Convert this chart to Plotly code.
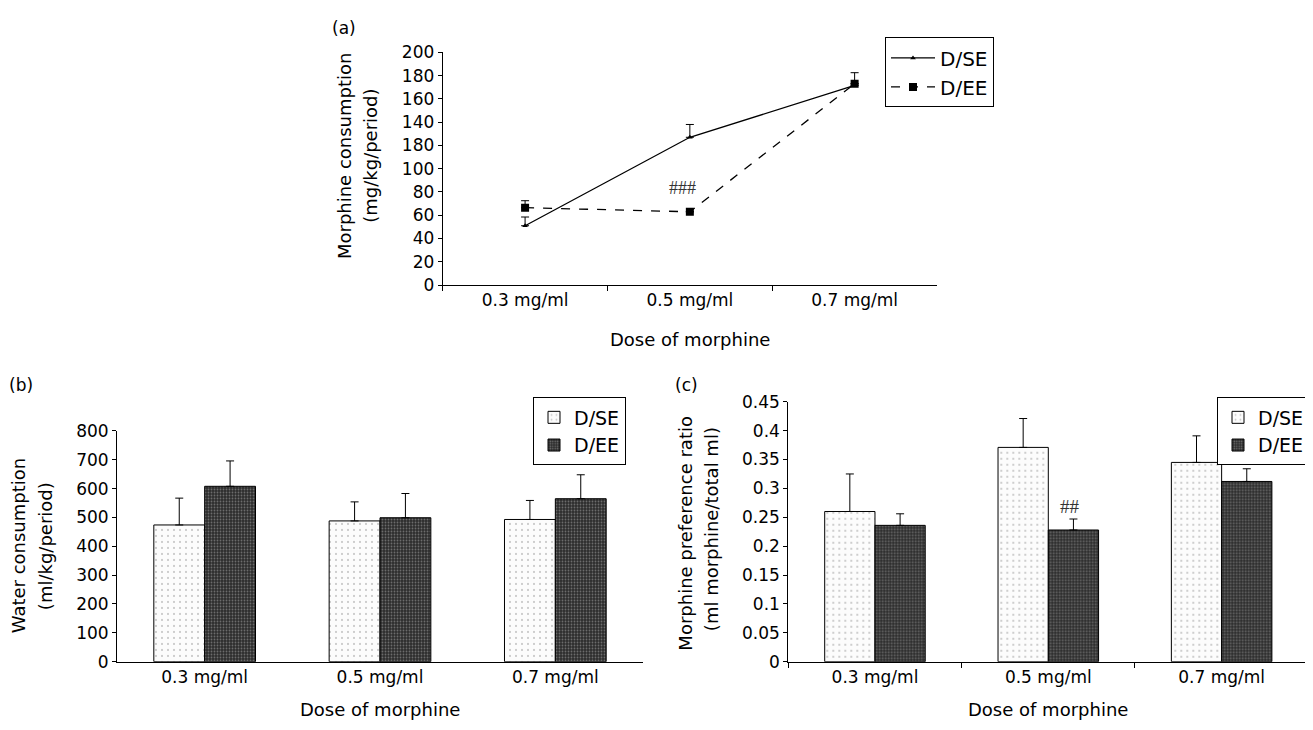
import plotly.graph_objects as go

# ---------------- data ----------------
categories = ["0.3 mg/ml", "0.5 mg/ml", "0.7 mg/ml"]

# (a) Morphine consumption (mg/kg/period)
a_dse = [51, 127, 171.5]
a_dse_err = [7.5, 11, 11]
a_dee = [66.5, 63, 173]
a_dee_err = [6, 0, 0]
a_yticks = [0, 20, 40, 60, 80, 100, 120, 140, 160, 180, 200]
a_yticktext = ["0", "20", "40", "60", "80", "100", "180", "140", "160", "180", "200"]

# (b) Water consumption (ml/kg/period)
b_dse = [474, 488, 493]
b_dse_err = [93, 66, 66]
b_dee = [608, 499, 565]
b_dee_err = [88, 84, 83]
b_yticks = [0, 100, 200, 300, 400, 500, 600, 700, 800]

# (c) Morphine preference ratio
c_dse = [0.260, 0.371, 0.345]
c_dse_err = [0.065, 0.050, 0.046]
c_dee = [0.236, 0.228, 0.312]
c_dee_err = [0.020, 0.019, 0.022]
c_yticks = [0, 0.05, 0.1, 0.15, 0.2, 0.25, 0.3, 0.35, 0.4, 0.45]
c_yticktext = ["0", "0.05", "0.1", "0.15", "0.2", "0.25", "0.3", "0.35", "0.4", "0.45"]

FONT = "DejaVu Sans"
OFF = 8                      # default page body margin
W, H = 1313 - OFF, 730 - OFF


def px(x):
    return (x - OFF) / W


def py(y):
    return 1 - (y - OFF) / H


def err(arr):
    return dict(type="data", array=arr, arrayminus=[0] * len(arr), symmetric=False,
                color="black", thickness=1, width=4)


fig = go.Figure()

# ---------- (a) lines ----------
fig.add_trace(go.Scatter(
    x=categories, y=a_dse, name="D/SE", mode="lines+markers",
    line=dict(color="black", width=1.3, dash="solid"),
    marker=dict(symbol="triangle-up", size=5, color="black"),
    error_y=err(a_dse_err), xaxis="x", yaxis="y", legend="legend"))
fig.add_trace(go.Scatter(
    x=categories, y=a_dee, name="D/EE", mode="lines+markers",
    line=dict(color="black", width=1.3, dash="dash"),
    marker=dict(symbol="square", size=8, color="black"),
    error_y=err(a_dee_err), xaxis="x", yaxis="y", legend="legend"))

# ---------- bar styles ----------
light = dict(color="white", line=dict(color="black", width=1),
             pattern=dict(shape=".", fgcolor="#8a8a8a", bgcolor="#fcfcfc", size=6, solidity=0.1))
dark = dict(color="#333333", line=dict(color="black", width=1),
            pattern=dict(shape=".", fgcolor="#b0b0b0", bgcolor="#2c2c2c", size=3, solidity=0.3))

# ---------- (b) bars ----------
fig.add_trace(go.Bar(x=categories, y=b_dse, name="D/SE", marker=light,
                     error_y=err(b_dse_err), xaxis="x2", yaxis="y2", legend="legend2"))
fig.add_trace(go.Bar(x=categories, y=b_dee, name="D/EE", marker=dark,
                     error_y=err(b_dee_err), xaxis="x2", yaxis="y2", legend="legend2"))

# ---------- (c) bars ----------
fig.add_trace(go.Bar(x=categories, y=c_dse, name="D/SE", marker=light,
                     error_y=err(c_dse_err), xaxis="x3", yaxis="y3", legend="legend3"))
fig.add_trace(go.Bar(x=categories, y=c_dee, name="D/EE", marker=dark,
                     error_y=err(c_dee_err), xaxis="x3", yaxis="y3", legend="legend3"))

tickfont = dict(family=FONT, size=17, color="black")
xcommon = dict(type="category", showline=True, linecolor="black", linewidth=1,
               showgrid=False, zeroline=False, tickfont=tickfont, range=[-0.5, 2.5])
ycommon = dict(showline=True, linecolor="black", linewidth=1, showgrid=False,
               zeroline=False, ticks="outside", ticklen=4, tickcolor="black",
               tickfont=tickfont)
legcommon = dict(bordercolor="black", borderwidth=1, bgcolor="white",
                 yanchor="top", tracegroupgap=0)

fig.update_layout(
    width=W, height=H, autosize=False,
    margin=dict(l=0, r=0, t=0, b=0),
    paper_bgcolor="white", plot_bgcolor="white",
    barmode="group", bargap=0.42, bargroupgap=0,
    font=dict(family=FONT, size=17, color="black"),
    xaxis=dict(domain=[px(442.7), px(937)], anchor="y", ticks="outside",
               tickson="boundaries", ticklen=5, tickcolor="black", **xcommon),
    yaxis=dict(domain=[py(282.7), py(43.3)], anchor="x", range=[0, 200],
               tickvals=a_yticks, ticktext=a_yticktext, **ycommon),
    xaxis2=dict(domain=[px(117), px(643)], anchor="y2", ticks="", **xcommon),
    yaxis2=dict(domain=[py(670), py(432.7)], anchor="x2", range=[0, 800],
                tickvals=b_yticks, **ycommon),
    xaxis3=dict(domain=[px(788.3), px(1308.3)], anchor="y3", ticks="outside",
                tickson="boundaries", ticklen=5, tickcolor="black", **xcommon),
    yaxis3=dict(domain=[py(670), py(402.7)], anchor="x3", range=[0, 0.45],
                tickvals=c_yticks, ticktext=c_yticktext, **ycommon),
    legend=dict(x=px(885), y=py(28), xanchor="left", itemwidth=44,
                font=dict(family=FONT, size=20, color="black"), **legcommon),
    legend2=dict(x=px(626), y=py(398.3), xanchor="right",
                 font=dict(family=FONT, size=19, color="black"), **legcommon),
    legend3=dict(x=px(1310), y=py(398.3), xanchor="right",
                 font=dict(family=FONT, size=19, color="black"), **legcommon),
)

ann = []


def label(text, x, y, size=18, angle=0, family=FONT):
    ann.append(dict(text=text, x=px(x), y=py(y), xref="paper", yref="paper",
                    xanchor="center", yanchor="middle", showarrow=False,
                    textangle=angle, font=dict(family=family, size=size, color="black")))


label("(a)", 343.5, 18.3, size=17)
label("(b)", 20.8, 385, size=17)
label("(c)", 686, 385, size=17)
label("Morphine consumption", 344, 150, angle=-90)
label("(mg/kg/period)", 369.7, 150, angle=-90)
label("Water consumption", 19.3, 551, angle=-90)
label("(ml/kg/period)", 45.7, 551.5, angle=-90)
label("Morphine preference ratio", 685.8, 537.5, angle=-90)
label("(ml morphine/total ml)", 711.7, 534, angle=-90)
label("Dose of morphine", 690, 339)
label("Dose of morphine", 380, 719)
label("Dose of morphine", 1048, 719)

# significance marks
ann.append(dict(text="###", x=0.955, y=83.5, xref="x", yref="y", showarrow=False,
                xanchor="center", yanchor="middle",
                font=dict(family="Liberation Serif", size=18, color="#333")))
ann.append(dict(text="##", x=1.128, y=0.268, xref="x3", yref="y3", showarrow=False,
                xanchor="center", yanchor="middle",
                font=dict(family="Liberation Serif", size=19, color="#333")))

fig.update_layout(annotations=ann)
fig.write_html("out.html")
